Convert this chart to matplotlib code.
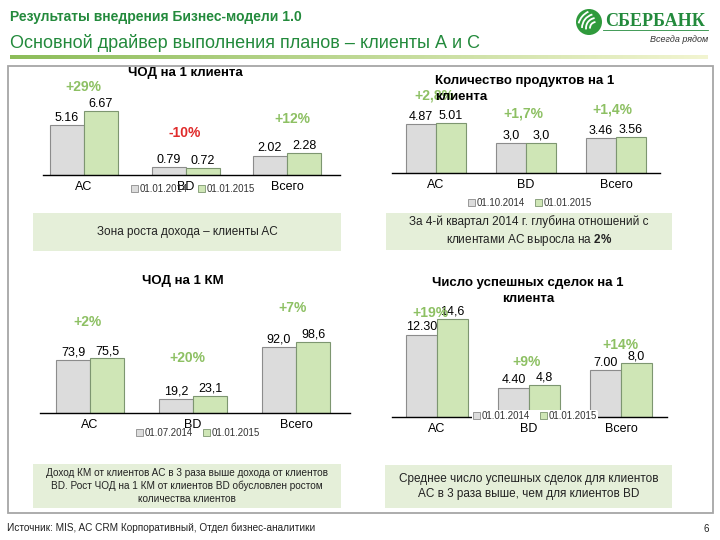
import numpy as np
import matplotlib
matplotlib.use("Agg")
import matplotlib.pyplot as plt
from matplotlib import font_manager
from matplotlib.patches import Rectangle, Circle, Arc, Patch
from matplotlib.transforms import Affine2D

W, H = 720, 540

plt.rcParams["font.family"] = ["Liberation Sans", "DejaVu Sans"]
plt.rcParams["mathtext.fontset"] = "custom"
plt.rcParams["mathtext.rm"] = "Liberation Sans"
plt.rcParams["mathtext.bf"] = "Liberation Sans:bold"

installed = {f.name for f in font_manager.fontManager.ttflist}
NARROW = ["Liberation Sans Narrow", "Liberation Sans"] if "Liberation Sans Narrow" in installed else ["Liberation Sans"]

# ---- data ----
cats = ["AC", "BD", "Всего"]

chod_client_old = [5.16, 0.79, 2.02]
chod_client_new = [6.67, 0.72, 2.28]
chod_client_old_lab = ["5.16", "0.79", "2.02"]
chod_client_new_lab = ["6.67", "0.72", "2.28"]
chod_client_chg = ["+29%", "-10%", "+12%"]
chod_client_dates = ["01.01.2014", "01.01.2015"]

products_old = [4.87, 3.0, 3.46]
products_new = [5.01, 3.0, 3.56]
products_old_lab = ["4.87", "3,0", "3.46"]
products_new_lab = ["5.01", "3,0", "3.56"]
products_chg = ["+2,8%", "+1,7%", "+1,4%"]
products_dates = ["01.10.2014", "01.01.2015"]

chod_km_old = [73.9, 19.2, 92.0]
chod_km_new = [75.5, 23.1, 98.6]
chod_km_old_lab = ["73,9", "19,2", "92,0"]
chod_km_new_lab = ["75,5", "23,1", "98,6"]
chod_km_chg = ["+2%", "+20%", "+7%"]
chod_km_dates = ["01.07.2014", "01.01.2015"]

deals_old = [12.30, 4.40, 7.00]
deals_new = [14.6, 4.8, 8.0]
deals_old_lab = ["12.30", "4.40", "7.00"]
deals_new_lab = ["14,6", "4,8", "8,0"]
deals_chg = ["+19%", "+9%", "+14%"]
deals_dates = ["01.01.2014", "01.01.2015"]

GRAY, GRAY_EDGE = "#dcdcdc", "#8c8c8c"
GREEN, GREEN_EDGE = "#cfe6b6", "#7d9670"
UP, DOWN = "#8dc063", "#e02b2b"
BOX = "#e5efd9"
DARK_GREEN = "#238a3c"

fig = plt.figure(figsize=(W / 100, H / 100), dpi=100)
px = Affine2D().scale(1 / W, -1 / H).translate(0, 1) + fig.transFigure


def txt(x, y, s, **kw):
    kw.setdefault("ha", "center")
    kw.setdefault("va", "center")
    return fig.text(x, y, s, transform=px, **kw)


# ---- header ----
txt(10, 17, "Результаты внедрения Бизнес-модели 1.0", ha="left", fontsize=10,
    fontweight="bold", color=DARK_GREEN)
txt(10, 43, "Основной драйвер выполнения планов – клиенты А и С", ha="left",
    fontsize=13, color=DARK_GREEN)

grad = np.linspace(0, 1, 256)
left = np.array([0.55, 0.74, 0.35])
right = np.array([0.95, 0.96, 0.82])
cols = left[None, :] * (1 - grad[:, None]) + right[None, :] * grad[:, None]
gax = fig.add_axes([10 / W, 1 - 59 / H, 698 / W, 4 / H])
gax.imshow(cols[None, :, :], aspect="auto", extent=(0, 1, 0, 1))
gax.axis("off")

# logo: green ball with white stripes
fig.add_artist(Circle((589, 22), 13, transform=px, fc="#2f9a3c", ec="none"))
for r, t1, t2 in [(6, 175, 265), (10, 172, 262), (14, 180, 255), (18, 195, 245)]:
    fig.add_artist(Arc((596, 28), 2 * r, 2 * r, theta1=t1, theta2=t2,
                       transform=px, color="white", lw=1.3))
txt(655, 21, "СБЕРБАНК", fontsize=13, fontweight="bold", color=DARK_GREEN,
    family=["Liberation Serif", "DejaVu Serif"])
fig.add_artist(plt.Line2D([603, 708], [30, 30], transform=px, color=DARK_GREEN, lw=0.6))
txt(708, 40, "Всегда рядом", ha="right", fontsize=6.5, style="italic", color="#333333")

# frame
fig.add_artist(Rectangle((8, 66), 705, 447, transform=px, fc="none",
                         ec="#a6a6a6", lw=1.3))


def bar_panel(x0, x1, base, ppu, c0, sp, bw, v_old, v_new, l_old, l_new):
    ax = fig.add_axes([x0 / W, 1 - base / H, (x1 - x0) / W, 115 / H])
    ax.set_xlim((x0 - c0) / sp, (x1 - c0) / sp)
    ax.set_ylim(0, 115 / ppu)
    x = np.arange(len(cats))
    w = bw / sp
    ax.bar(x - w / 2, v_old, w, color=GRAY, edgecolor=GRAY_EDGE, lw=0.8)
    ax.bar(x + w / 2, v_new, w, color=GREEN, edgecolor=GREEN_EDGE, lw=0.8)
    for xs, vals, labs in [(x - w / 2, v_old, l_old), (x + w / 2, v_new, l_new)]:
        for xi, v, s in zip(xs, vals, labs):
            ax.annotate(s, (xi, v), xytext=(0, 1), textcoords="offset points",
                        ha="center", va="bottom", fontsize=9)
    for side in ["top", "left", "right"]:
        ax.spines[side].set_visible(False)
    ax.spines["bottom"].set_color("black")
    ax.spines["bottom"].set_linewidth(1.0)
    ax.set_xticks(x, cats)
    ax.set_yticks([])
    ax.tick_params(axis="x", length=0, pad=4, labelsize=9)
    ax.patch.set_alpha(0)
    return ax


def legend(cx, cy, labels, white=False):
    handles = [Patch(fc=GRAY, ec=GRAY_EDGE, lw=0.6), Patch(fc=GREEN, ec=GREEN_EDGE, lw=0.6)]
    leg = fig.legend(handles, labels, loc="center", bbox_to_anchor=(cx, cy),
                     bbox_transform=px, ncol=2, fontsize=7, handlelength=0.7,
                     handleheight=0.7, handletextpad=0.2, columnspacing=1.0,
                     borderpad=0.1, frameon=white, facecolor="white",
                     edgecolor="none", framealpha=1)
    for t in leg.get_texts():
        t.set_color("#333333")


def changes(positions, labels):
    for (x, y), s in zip(positions, labels):
        col = DOWN if s.startswith("-") else UP
        txt(x, y, s, fontsize=10, fontweight="bold", color=col)


# ---- panel 1: ЧОД на 1 клиента ----
bar_panel(43, 340, 175, 9.6, 84, 101.5, 34, chod_client_old, chod_client_new,
          chod_client_old_lab, chod_client_new_lab)
changes([(83, 87), (185, 133), (292, 119)], chod_client_chg)
txt(185, 73, "ЧОД на 1 клиента", fontsize=9.5, fontweight="bold")
legend(193, 189, chod_client_dates)

# ---- panel 2: Количество продуктов ----
bar_panel(392, 660, 173, 10, 436, 90, 30, products_old, products_new,
          products_old_lab, products_new_lab)
changes([(434, 96), (523, 113), (612, 110)], products_chg)
txt(435, 89, "Количество продуктов на 1\nклиента", ha="left", fontsize=9.5,
    fontweight="bold", linespacing=1.35)
legend(530, 203, products_dates)

# ---- panel 3: ЧОД на 1 КМ ----
bar_panel(40, 350, 413, 0.722, 90, 103, 34, chod_km_old, chod_km_new,
          chod_km_old_lab, chod_km_new_lab)
changes([(88, 322), (187, 358), (293, 308)], chod_km_chg)
txt(183, 281, "ЧОД на 1 КМ", fontsize=9.5, fontweight="bold")
legend(198, 433, chod_km_dates)

# ---- panel 4: Число успешных сделок ----
bar_panel(392, 667, 417, 6.7, 437, 92, 31, deals_old, deals_new,
          deals_old_lab, deals_new_lab)
changes([(430, 313), (527, 362), (620, 345)], deals_chg)
txt(528, 291, "Число успешных сделок на 1\nклиента", fontsize=9.5,
    fontweight="bold", linespacing=1.35)
legend(535, 416, deals_dates, white=True)


# ---- comment boxes ----
def box(x0, y0, x1, y1, s, size, fam=None):
    fig.add_artist(Rectangle((x0, y0), x1 - x0, y1 - y0, transform=px, fc=BOX, ec="none"))
    txt((x0 + x1) / 2, (y0 + y1) / 2, s, fontsize=size, color="#222222",
        family=fam or ["Liberation Sans"], linespacing=1.35)


box(33, 213, 341, 251, "Зона роста дохода – клиенты AC", 8.5, NARROW)
box(386, 213, 672, 250, "За 4-й квартал 2014 г. глубина отношений с\n"
    "клиентами AC выросла на $\\mathbf{2\\%}$", 8.5, NARROW)
box(33, 464, 341, 508, "Доход КМ от клиентов AC в 3 раза выше дохода от клиентов\n"
    "BD. Рост ЧОД на 1 КМ от клиентов BD обусловлен ростом\n"
    "количества клиентов", 7.2, NARROW)
box(385, 465, 672, 508, "Среднее число успешных сделок для клиентов\n"
    "AC в 3 раза выше, чем для клиентов BD", 8.5, NARROW)

# ---- footer ----
txt(7, 528, "Источник: MIS, AC CRM Корпоративный, Отдел бизнес-аналитики",
    ha="left", fontsize=7.2, family=NARROW, color="#222222")
txt(706, 529, "6", fontsize=7, color="#222222")

fig.savefig("out.png", dpi=100)
